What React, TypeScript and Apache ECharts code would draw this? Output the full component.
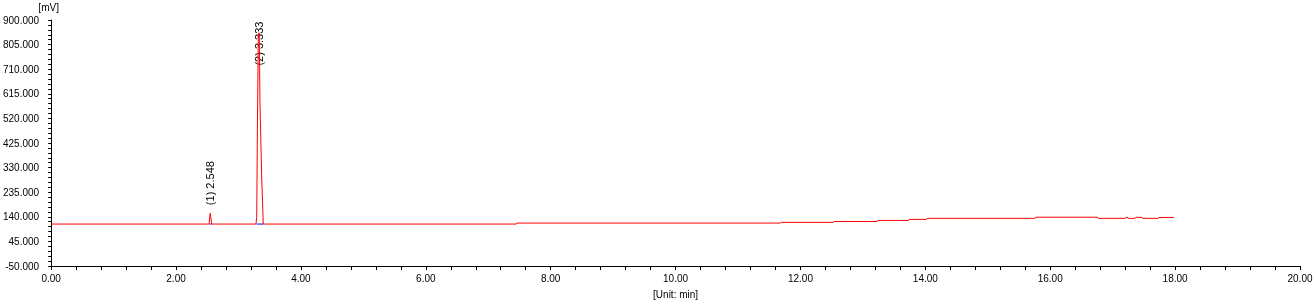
import React, { useEffect, useRef } from "react";
import * as echarts from "echarts";

// Retention time (min) and detector signal (mV)
const times: number[] = [
  0, 2.53, 2.538, 2.54, 2.548, 2.552, 2.558, 2.568, 2.572,
  3.28, 3.29, 3.292, 3.305, 3.318, 3.333, 3.344, 3.371, 3.397,
  7.45, 7.46, 11.68, 11.69, 12.53, 12.54, 13.23, 13.24, 13.73, 13.74,
  14.02, 14.03, 15.76, 15.77, 16.76, 16.77, 17.2, 17.21, 17.24, 17.25,
  17.36, 17.37, 17.47, 17.48, 17.73, 17.74, 17.98,
];
const signal: number[] = [
  112, 112, 112, 141, 154, 154, 135, 118, 112,
  112, 112, 138, 529, 848, 850, 579, 300, 112,
  112, 115.8, 115.8, 118.5, 118.5, 122, 122, 126, 126, 130,
  130, 134, 134, 138.5, 138.5, 134, 134, 138, 138, 134,
  134, 138, 138, 134, 134, 137.5, 137.5,
];

// Integration baselines under the peaks (start, end, level)
const baseStart: number[] = [2.538, 3.29];
const baseEnd: number[] = [2.572, 3.397];
const baseLevel: number[] = [112, 112];

// Peak annotations
const peakNames: string[] = ["(1) 2.548", "(2) 3.333"];
const peakTimes: number[] = [2.548, 3.333];
const peakLabelAnchor: number[] = [185, 724];

// Axis settings
const xMin = 0, xMax = 20, xStep = 2;
const yMin = -50, yMax = 900, yStep = 95;

const FONT = "'Liberation Sans', Arial, sans-serif";

export default function App() {
  const ref = useRef<HTMLDivElement>(null);

  useEffect(() => {
    document.body.style.margin = "0";
    const chart = echarts.init(ref.current!, null, { renderer: "svg" });

    const trace = times.map((t, i) => [t, signal[i]]);
    const baseData: any[] = [];
    baseStart.forEach((s, i) => {
      if (i > 0) baseData.push([s - 0.01, "-"]);
      baseData.push([s, baseLevel[i]]);
      baseData.push([baseEnd[i], baseLevel[i]]);
    });

    const axisCommon = {
      axisLine: { show: true, onZero: false, lineStyle: { color: "#000", width: 1 } },
      splitLine: { show: false },
    };

    chart.setOption({
      animation: false,
      grid: { left: 50, right: 16, top: 20, bottom: 35 },
      xAxis: {
        type: "value",
        min: xMin,
        max: xMax,
        interval: xStep,
        ...axisCommon,
        axisTick: { show: true, inside: false, length: 4, lineStyle: { color: "#000" } },
        minorTick: { show: true, splitNumber: 5, length: 4, lineStyle: { color: "#000" } },
        axisLabel: {
          formatter: (v: number) => v.toFixed(2),
          margin: 7,
          fontSize: 10,
          color: "#000",
          fontFamily: FONT,
        },
        name: "[Unit: min]",
        nameLocation: "middle",
        nameGap: 23,
        nameTextStyle: { fontSize: 10, color: "#000", fontFamily: FONT },
      },
      yAxis: {
        type: "value",
        min: yMin,
        max: yMax,
        interval: yStep,
        ...axisCommon,
        axisTick: { show: true, inside: false, length: 3, lineStyle: { color: "#000" } },
        minorTick: { show: true, splitNumber: 5, length: 3, lineStyle: { color: "#000" } },
        axisLabel: {
          formatter: (v: number) => v.toFixed(3),
          margin: 12,
          fontSize: 10,
          color: "#000",
          fontFamily: FONT,
        },
        name: "[mV]",
        nameLocation: "end",
        nameGap: 8,
        nameTextStyle: { fontSize: 10, color: "#000", fontFamily: FONT, padding: [0, 5, 0, 0] },
      },
      series: [
        {
          type: "line",
          data: trace,
          showSymbol: false,
          symbol: "none",
          lineStyle: { color: "#ff0000", width: 1 },
          itemStyle: { color: "#ff0000" },
        },
        {
          type: "line",
          data: baseData,
          showSymbol: false,
          symbol: "none",
          connectNulls: false,
          lineStyle: { color: "#0000ff", width: 1 },
          itemStyle: { color: "#0000ff" },
        },
      ],
    });

    const graphics = peakNames.map((name, i) => {
      const p = chart.convertToPixel({ gridIndex: 0 }, [peakTimes[i], peakLabelAnchor[i]]) as number[];
      return {
        type: "text",
        x: p[0],
        y: p[1],
        rotation: Math.PI / 2,
        style: {
          text: name,
          fontSize: 11,
          fontFamily: FONT,
          fill: "#000",
          align: "left",
          verticalAlign: "middle",
        },
      };
    });
    chart.setOption({ graphic: graphics });

    return () => chart.dispose();
  }, []);

  return (
    <div
      ref={ref}
      style={{ position: "fixed", left: 0, top: 0, width: 1316, height: 304 }}
    />
  );
}
